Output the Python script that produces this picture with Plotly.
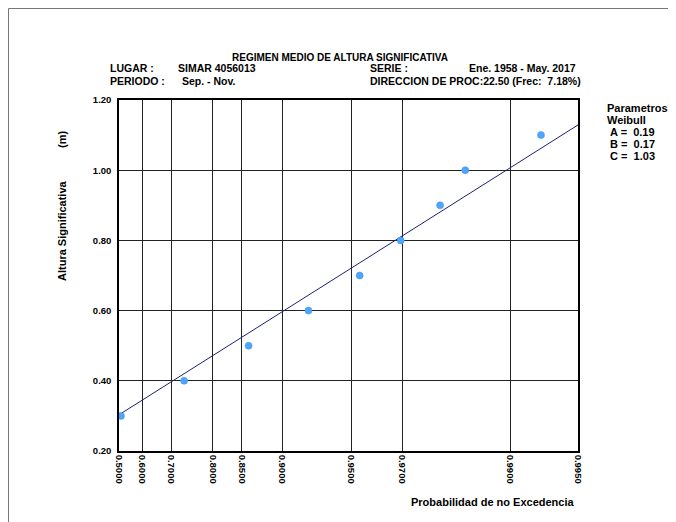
import numpy as np
import plotly.graph_objects as go

# Weibull parameters
A_par = 0.19
B_par = 0.17
C_par = 1.03

# observed points: non-exceedance probability and significant wave height (m)
prob = [0.5095, 0.735, 0.860, 0.923, 0.954, 0.9696, 0.9796, 0.9842, 0.9927]
hs = [0.30, 0.40, 0.50, 0.60, 0.70, 0.80, 0.90, 1.00, 1.10]

x_tick_probs = [0.5000, 0.6000, 0.7000, 0.8000, 0.8500, 0.9000, 0.9500, 0.9700, 0.9900, 0.9950]
x_tick_labels = ["0.5000", "0.6000", "0.7000", "0.8000", "0.8500", "0.9000", "0.9500", "0.9700", "0.9900", "0.9950"]
y_tick_vals = [0.20, 0.40, 0.60, 0.80, 1.00, 1.20]
y_tick_labels = ["0.20", "0.40", "0.60", "0.80", "1.00", "1.20"]


def tr(p):
    p = np.asarray(p, dtype=float)
    return (-np.log(1 - p)) ** (1.0 / C_par)


fit_p = np.array([x_tick_probs[0], x_tick_probs[-1]])
fit_h = B_par + A_par * tr(fit_p)

FONT = "Liberation Sans, Arial, sans-serif"

fig = go.Figure()
fig.add_trace(go.Scatter(x=tr(fit_p), y=fit_h, mode="lines",
                         line=dict(color="#1f1f7a", width=1), showlegend=False,
                         hoverinfo="skip"))
fig.add_trace(go.Scatter(x=tr(prob), y=hs, mode="markers",
                         marker=dict(color="#4da6ff", size=7,
                                     line=dict(color="#3a8fe8", width=0.5)),
                         showlegend=False))

fig.update_xaxes(range=[float(tr(x_tick_probs[0])), float(tr(x_tick_probs[-1]))],
                 tickvals=list(tr(x_tick_probs)),
                 ticktext=["<b>" + t + "</b>" for t in x_tick_labels],
                 tickangle=90, tickfont=dict(family=FONT, size=9.5, color="black"),
                 showgrid=True, gridcolor="#222", gridwidth=1,
                 showline=True, linecolor="black", linewidth=1.5, mirror=True,
                 zeroline=False, ticks="")
fig.update_yaxes(range=[0.2, 1.2], tickvals=y_tick_vals,
                 ticktext=["<b>" + t + "</b>" for t in y_tick_labels],
                 tickfont=dict(family=FONT, size=9.5, color="black"),
                 showgrid=True, gridcolor="#222", gridwidth=1,
                 showline=True, linecolor="black", linewidth=1.5, mirror=True,
                 zeroline=False, ticks="", ticklabelstandoff=4)

OFF = 8  # page body margin
W, H = 676 - OFF, 522 - OFF
L, T = 119 - OFF, 100 - OFF
R = W - (578 - OFF)
Bm = H - (451 - OFF)
pw, ph = W - L - R, H - T - Bm


def px(xp):
    return (xp - OFF - L) / pw


def py(yp):
    return (H - Bm - (yp - OFF)) / ph


def ann(text, x, y, xanchor="left", size=10.5, angle=0):
    fig.add_annotation(text="<b>" + text + "</b>", x=px(x), y=py(y), xref="paper", yref="paper",
                       xanchor=xanchor, yanchor="middle", showarrow=False, textangle=angle,
                       font=dict(family=FONT, size=size, color="black"))


ann("REGIMEN MEDIO DE ALTURA SIGNIFICATIVA", 340, 58, "center", 10)
ann("LUGAR :", 108, 68)
ann("SIMAR 4056013", 176, 68)
ann("PERIODO :", 108, 81)
ann("Sep. - Nov.", 180, 81)
ann("SERIE :", 368, 68)
ann("Ene. 1958 - May. 2017", 578, 68, "right")
ann("DIRECCION DE PROC:22.50 (Frec:  7.18%)", 368, 81)
ann("Parametros", 605, 108, size=11)
ann("Weibull", 605, 120, size=11)
ann("&nbsp;A =&nbsp;&nbsp;%.2f" % A_par, 605, 132, size=11)
ann("&nbsp;B =&nbsp;&nbsp;%.2f" % B_par, 605, 144, size=11)
ann("&nbsp;C =&nbsp;&nbsp;%.2f" % C_par, 605, 156, size=11)
ann("Altura Significativa", 62, 231, "center", 11, -90)
ann("(m)", 62, 140, "center", 11, -90)
ann("Probabilidad de no Excedencia", 576, 502, "right", 11)

fig.add_shape(type="rect", xref="paper", yref="paper",
              x0=px(OFF + 0.5), x1=px(700), y0=py(540), y1=py(OFF + 0.5),
              line=dict(color="#777", width=1), fillcolor="rgba(0,0,0,0)", layer="below")

fig.update_layout(width=W, height=H, margin=dict(l=L, r=R, t=T, b=Bm),
                  paper_bgcolor="white", plot_bgcolor="white", showlegend=False)

fig.write_html("out.html")
